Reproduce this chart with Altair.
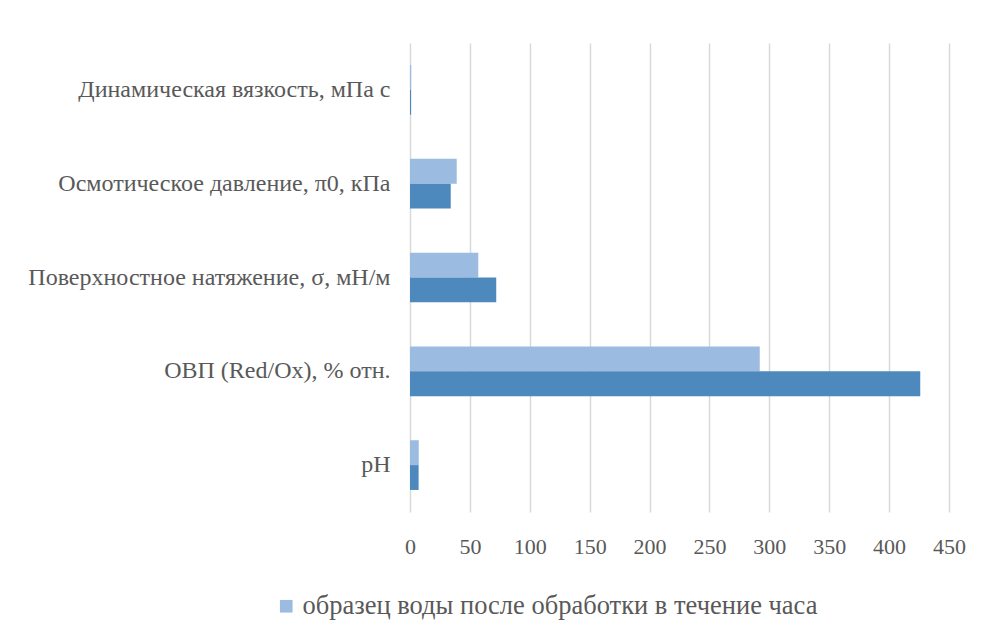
import altair as alt
import pandas as pd

categories = [
    "Динамическая вязкость, мПа с",
    "Осмотическое давление, π0, кПа",
    "Поверхностное натяжение, σ, мН/м",
    "ОВП (Red/Ox), % отн.",
    "pH",
]
series_names = ["образец воды после обработки в течение часа", "исходный образец воды"]
after_hour = [1.0, 39, 57, 292, 7.3]
initial = [0.9, 34, 72, 426, 7.2]
x_ticks = [0, 50, 100, 150, 200, 250, 300, 350, 400, 450]
colors = ["#9BBBE0", "#4E89BD"]

rows = []
for c, v in zip(categories, after_hour):
    rows.append({"cat": c, "series": series_names[0], "order": 0, "value": v})
for c, v in zip(categories, initial):
    rows.append({"cat": c, "series": series_names[1], "order": 1, "value": v})
df = pd.DataFrame(rows)

font = "Liberation Serif"
gray = "#595959"

chart = alt.Chart(df).mark_bar().encode(
    y=alt.Y(
        "cat:N",
        sort=categories,
        scale=alt.Scale(paddingInner=0.47, paddingOuter=0.235),
        axis=alt.Axis(
            title=None, ticks=False, domain=False, grid=False,
            labelFont=font, labelFontSize=24, labelColor=gray,
            labelPadding=20, labelLimit=400,
        ),
    ),
    yOffset=alt.YOffset("order:O", scale=alt.Scale(paddingInner=0, paddingOuter=0)),
    x=alt.X(
        "value:Q",
        scale=alt.Scale(domain=[0, 450], nice=False),
        axis=alt.Axis(
            title=None, values=x_ticks, ticks=False, domain=False,
            grid=True, gridColor="#d9d9d9", gridWidth=1.5,
            labelFont=font, labelFontSize=22, labelColor=gray, labelPadding=24,
            labelFlush=False,
        ),
    ),
    color=alt.Color(
        "series:N",
        scale=alt.Scale(domain=series_names, range=colors),
        legend=alt.Legend(
            title=None, orient="none", legendX=-137, legendY=550,
            values=[series_names[0]],
            symbolType="square", symbolSize=160, symbolStrokeWidth=0,
            labelFont=font, labelFontSize=26.5, labelColor=gray, labelLimit=700,
            labelOffset=3,
        ),
    ),
).properties(
    width=539,
    height=469,
    autosize=alt.AutoSizeParams(type="none"),
    padding={"left": 402, "top": 35, "right": 20, "bottom": 112},
).configure_view(stroke=None)

chart.save("out.html", embed_options={"renderer": "svg", "actions": False})
